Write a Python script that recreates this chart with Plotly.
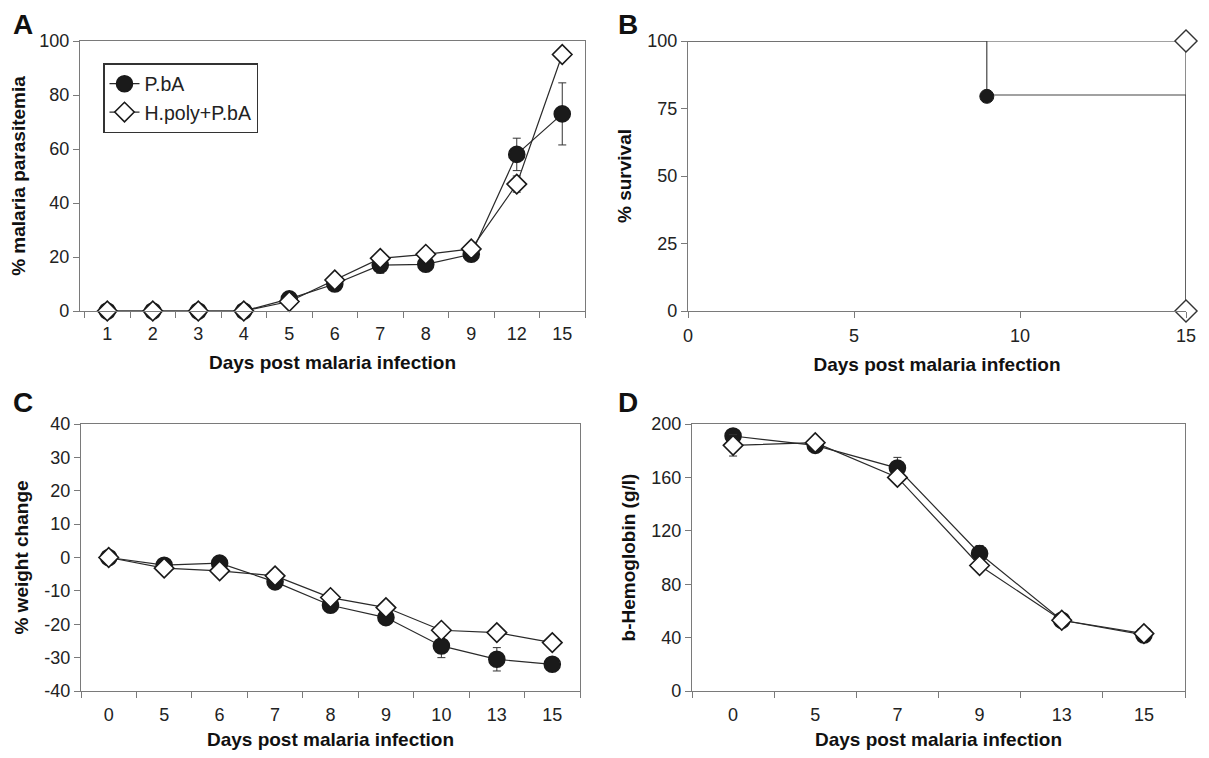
import plotly.graph_objects as go

# ---------------- Data ----------------
# Panel A: % malaria parasitemia
a_days = ["1", "2", "3", "4", "5", "6", "7", "8", "9", "12", "15"]
a_pba = [0, 0, 0, 0, 4.5, 10, 17, 17.3, 21, 58, 73]
a_pba_err = [0, 0, 0, 0, 0.5, 1, 3, 1, 1, 6, 11.5]
a_hp = [0, 0, 0, 0, 3.5, 11.5, 19.5, 21, 23, 47, 95]
a_hp_err = [0, 0, 0, 0, 0.5, 0.8, 1.2, 0.8, 0.8, 3, 0]
a_yticks = [0, 20, 40, 60, 80, 100]

# Panel B: % survival (Kaplan-Meier steps)
b_pba_x = [0, 9, 9, 15, 15]
b_pba_y = [100, 100, 80, 80, 0]
b_pba_mark_x = [9]
b_pba_mark_y = [79.5]
b_hp_x = [0, 15, 15]
b_hp_y = [100, 100, 0]
b_hp_mark_x = [15, 15]
b_hp_mark_y = [100, 0]
b_xticks = [0, 5, 10, 15]
b_yticks = [0, 25, 50, 75, 100]

# Panel C: % weight change
c_days = ["0", "5", "6", "7", "8", "9", "10", "13", "15"]
c_pba = [0, -2.3, -1.7, -7.3, -14.3, -18, -26.5, -30.5, -32]
c_pba_err = [0, 0.5, 0.5, 0.8, 0.8, 1, 3.5, 3.5, 0.8]
c_hp = [0, -3.2, -4, -5.5, -12, -15, -21.8, -22.5, -25.5]
c_hp_err = [0, 0.5, 0.5, 0.5, 0.5, 0.5, 0.5, 0.5, 0.5]
c_yticks = [-40, -30, -20, -10, 0, 10, 20, 30, 40]
c_yticklabels = ["-40", "-30", "-20", "-10", "0", "10", "20", "30", "40"]

# Panel D: b-Hemoglobin (g/l)
d_days = ["0", "5", "7", "9", "13", "15"]
d_pba = [191, 184, 167, 103, 53, 42]
d_pba_err = [2, 2, 8, 6, 2, 2]
d_hp = [184, 186, 160, 94, 53, 43]
d_hp_err = [8, 2, 3, 2, 2, 2]
d_yticks = [0, 40, 80, 120, 160, 200]

# ---------------- Style ----------------
FONT = "Liberation Sans, Arial, sans-serif"
LINE = "#2a2a2a"
AX = "#7a7a7a"
TICKF = dict(family=FONT, size=18, color="#222")
TITLEF = dict(family=FONT, size=19, color="#111", weight="bold")

fig = go.Figure()


def add_series(xa, ya, x, y, err, name, show, filled):
    fig.add_trace(go.Scatter(
        x=x, y=y, name=name, showlegend=show, mode="lines+markers",
        xaxis=xa, yaxis=ya, cliponaxis=False,
        line=dict(color=LINE, width=1.2),
        marker=dict(
            symbol="circle" if filled else "diamond",
            size=16 if filled else 15,
            color="#1a1a1a" if filled else "white",
            line=dict(color="#1a1a1a", width=1.6)),
        error_y=dict(type="data", array=err, visible=True, color="#333",
                     thickness=1, width=4),
    ))


# Panel A
add_series("x", "y", a_days, a_pba, a_pba_err, "P.bA", True, True)
add_series("x", "y", a_days, a_hp, a_hp_err, "H.poly+P.bA", True, False)

# Panel B
fig.add_trace(go.Scatter(x=b_pba_x, y=b_pba_y, mode="lines", xaxis="x2", yaxis="y2",
                         showlegend=False, cliponaxis=False,
                         line=dict(color="#444", width=1.2)))
fig.add_trace(go.Scatter(x=b_hp_x, y=b_hp_y, mode="lines", xaxis="x2", yaxis="y2",
                         showlegend=False, cliponaxis=False,
                         line=dict(color="#444", width=1.2)))
fig.add_trace(go.Scatter(x=b_pba_mark_x, y=b_pba_mark_y, mode="markers", xaxis="x2", yaxis="y2",
                         showlegend=False, cliponaxis=False,
                         marker=dict(symbol="circle", size=14, color="#1a1a1a",
                                     line=dict(color="#1a1a1a", width=1))))
fig.add_trace(go.Scatter(x=b_hp_mark_x, y=b_hp_mark_y, mode="markers", xaxis="x2", yaxis="y2",
                         showlegend=False, cliponaxis=False,
                         marker=dict(symbol="diamond", size=17, color="white",
                                     line=dict(color="#333", width=1.4))))

# Panel C
add_series("x3", "y3", c_days, c_pba, c_pba_err, "P.bA", False, True)
add_series("x3", "y3", c_days, c_hp, c_hp_err, "H.poly+P.bA", False, False)

# Panel D
add_series("x4", "y4", d_days, d_pba, d_pba_err, "P.bA", False, True)
add_series("x4", "y4", d_days, d_hp, d_hp_err, "H.poly+P.bA", False, False)

# The page body adds an 8px offset; size the figure to the visible window.
OFF = 8
W, H = 1209 - 2 * OFF, 758 - 2 * OFF


def dx(a, b):
    return [(a - OFF) / W, (b - OFF) / W]


def dy(top, bottom):
    return [1 - (bottom - OFF) / H, 1 - (top - OFF) / H]


xt = dict(title_text="Days post malaria infection", title_font=TITLEF, title_standoff=12,
          tickfont=TICKF, showgrid=False, zeroline=False, showline=True, automargin=False,
          linecolor=AX, linewidth=1.3, ticks="outside", ticklen=6, tickcolor=AX)
yt = dict(tickfont=TICKF, title_font=TITLEF, showgrid=False, zeroline=False, automargin=False,
          showline=True, linecolor=AX, linewidth=1.3, ticks="outside", ticklen=6,
          tickcolor=AX, title_standoff=10)

fig.update_layout(
    width=W, height=H, margin=dict(l=0, r=0, t=0, b=0, autoexpand=False),
    paper_bgcolor="white", plot_bgcolor="white",
    font=dict(family=FONT),
    xaxis=dict(**xt, domain=dx(80, 585), type="category", range=[-0.6, 10.5],
               tickson="boundaries", mirror=True, anchor="y", ticklabelstandoff=6),
    yaxis=dict(**yt, domain=dy(41, 311), range=[0, 100], tickvals=a_yticks, mirror=True,
               title_text="% malaria parasitemia", anchor="x"),
    xaxis2=dict(**xt, domain=dx(688, 1186), range=[0, 15], tickvals=b_xticks,
                anchor="y2", ticklabelstandoff=2),
    yaxis2=dict(**yt, domain=dy(41, 311), range=[0, 100], tickvals=b_yticks,
                title_text="% survival", anchor="x2"),
    xaxis3=dict(**xt, domain=dx(81, 580), type="category", range=[-0.5, 8.5],
                tickson="boundaries", mirror=True, anchor="y3", ticklabelstandoff=7),
    yaxis3=dict(**yt, domain=dy(424, 691), range=[-40, 40], tickvals=c_yticks,
                ticktext=c_yticklabels, mirror=True,
                title_text="% weight change", anchor="x3"),
    xaxis4=dict(**xt, domain=dx(692, 1185), type="category", range=[-0.5, 5.5],
                tickson="boundaries", mirror=True, anchor="y4", ticklabelstandoff=7),
    yaxis4=dict(**yt, domain=dy(424, 691), range=[0, 200], tickvals=d_yticks, mirror=True,
                title_text="b-Hemoglobin (g/l)", anchor="x4"),
    legend=dict(x=(103 - OFF) / W, y=1 - (63 - OFF) / H, xanchor="left", yanchor="top",
                bordercolor="#333", borderwidth=1.5, bgcolor="white",
                font=dict(family=FONT, size=19.5, color="#222"),
                itemwidth=30, tracegroupgap=0),
)

for txt, x, y in [("A", 11, 24), ("B", 616, 24), ("C", 11, 402), ("D", 616, 402)]:
    fig.add_annotation(text="<b>%s</b>" % txt, x=(x - OFF) / W, y=1 - (y - OFF) / H,
                       xref="paper", yref="paper",
                       showarrow=False, xanchor="left", yanchor="middle",
                       font=dict(family=FONT, size=28, color="#111"))

fig.write_html("out.html")
